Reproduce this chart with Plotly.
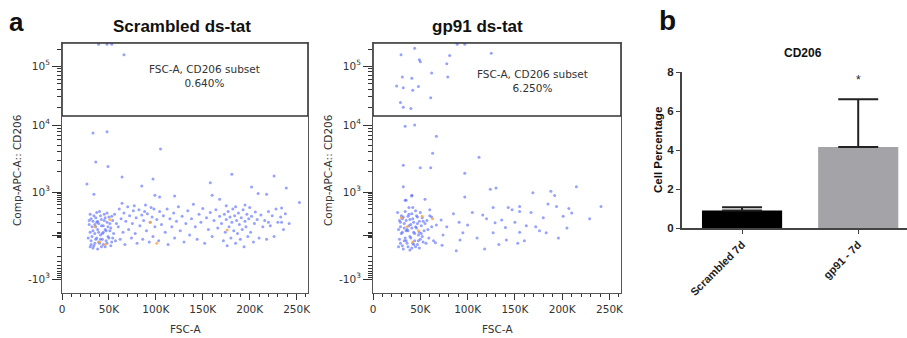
import numpy as np
import plotly.graph_objects as go

# ---------------- data ----------------
# Scrambled ds-tat : FSC-A (thousands) and Comp-APC-A :: CD206 values
scr_fsc = [30,31,32,33,34,35,36,37,38,39,40,41,42,43,44,45,46,47,48,49,50,52,53,54,55,
           29,30,31,32,33,34,35,36,37,38,39,40,41,42,43,44,45,46,47,48,49,50,51,52,53,
           28,29,30,31,33,35,36,37,38,39,41,42,44,46,48,51,54,56,57,58,
           60,61,62,63,65,66,67,68,70,71,72,74,75,76,78,79,80,82,83,85,86,87,89,90,91,93,94,96,97,98,99,64,77,88,95,
           101,103,104,106,108,110,112,113,115,117,119,120,122,124,126,128,130,132,134,136,138,140,142,144,146,148,150,152,154,156,158,160,162,164,166,168,
           170,172,173,174,175,176,177,178,179,180,181,182,183,184,185,186,187,188,189,190,191,192,193,194,195,196,197,198,199,200,201,202,204,205,206,208,210,212,214,175,185,195,
           216,218,220,222,224,226,228,230,233,236,238,242,
           26.6,34,64,85,97,99,104,120,158,160,168,181,202,209,218,226,239,253,234,234,220,
           39,48,53,66,33,48,105,36,49]
scr_cd206 = [20,-40,60,110,-80,10,150,-20,40,90,-60,0,130,-30,70,200,-90,30,100,-10,160,50,-50,120,10,
             80,-90,140,-10,30,180,-60,60,100,-110,20,250,-30,70,10,-70,120,40,-40,220,60,-20,90,-80,170,
             -20,120,200,-70,-100,80,-30,230,110,-50,180,-90,20,150,-60,30,-20,200,-40,90,
             60,300,-30,140,20,220,-70,110,350,40,180,-20,90,260,10,150,-60,280,70,190,-30,120,400,30,210,-50,100,160,-10,300,60,450,380,250,330,
             130,-40,250,80,180,20,300,-70,140,60,220,-20,110,350,30,170,-50,90,260,0,140,420,60,-30,200,100,310,-60,150,40,230,-10,120,280,50,170,
             90,-40,200,20,130,-80,250,60,160,-20,100,300,30,180,-60,120,10,220,80,-30,150,40,280,-90,110,60,200,-10,140,330,20,170,-50,90,240,130,-20,190,60,380,350,400,
             120,-30,250,70,180,-10,300,100,160,40,210,90,
             1320,850,1670,1230,1560,800,700,750,1380,800,600,1850,1190,900,850,1730,1150,480,320,100,100,
             250000,250000,250000,160000,7600,7900,4400,2800,2400]
scr_or_fsc = [35,40,46,51,94,101,176]
scr_or_cd206 = [60,-50,-70,130,100,-60,35]

# gp91 ds-tat
gp_fsc = [27,28,29,30,31,32,33,34,35,36,37,38,39,40,41,42,43,44,45,46,47,48,49,50,51,52,53,54,55,
          28,29,30,31,32,33,34,35,36,37,38,39,40,41,42,43,44,45,46,47,48,49,50,52,53,
          27,29,31,33,35,37,39,41,43,45,47,49,51,56,57,58,59,60,62,64,
          29.6,44,49,50,89,97,81,78,125,62,79,31,41,25,32,42,48,61,29,32,40,
          34,44,67,63,112,32,50,61,97,32,97,124,130,169,188,192,215,185,194,207,210,201,241,229,
          41,55,35,155,167,176,183,153,143,147,127,116,118,88,136,140,141,155,155,162,127,129,
          105,100,95,85,91,92,78,72,74,67,66,62,73,41,34,38,42,60,26,
          110,120,133,150,172,180,196,160,205]
gp_cd206 = [40,-30,100,10,-80,160,50,-20,120,-60,30,200,-10,80,-100,140,20,-40,60,180,-70,0,110,-30,70,150,-50,30,90,
            120,-60,180,20,-110,90,250,-40,40,-90,70,130,-20,210,-60,100,10,-90,50,160,-40,20,230,-10,110,
            -90,60,140,-40,30,170,-120,50,-70,260,90,-100,10,-60,120,40,-20,180,60,-40,
            160000,210000,130000,120000,250000,250000,155000,110000,170000,76000,65000,65000,62000,46000,43000,39000,45000,29000,24000,20000,19000,
            9600,10000,6800,3800,3300,2500,2300,2300,1900,1200,700,1100,1150,950,1030,780,1200,430,360,310,220,170,360,140,
            800,600,560,360,230,30,15,-60,330,280,330,190,-110,-130,125,55,-35,250,20,70,15,95,
            230,75,15,210,100,-35,60,125,0,75,-55,160,-75,760,560,330,330,280,230,
            -20,140,-70,100,60,150,-20,-40,50]
gp_or_fsc = [30,36,42,48,52,63]
gp_or_cd206 = [150,60,-50,30,170,140]

gate_pct = ["0.640%", "6.250%"]
panel_titles = ["Scrambled ds-tat", "gp91 ds-tat"]

bar_cats = ["Scrambled 7d", "gp91 - 7d"]
bar_means = [0.9, 4.15]
bar_sd = [0.17, 2.45]

# ---------------- biexponential-like display scale ----------------
SCALE_V = np.array([-1000, 0, 1000, 1e4, 1e5, 262144])
SCALE_D = np.array([21, 65, 108, 175, 234, 257])
def biex(v):
    v = np.asarray(v, float)
    return np.interp(np.arcsinh(v / 100), np.arcsinh(SCALE_V / 100), SCALE_D)

major_v = [-1000, 0, 1000, 1e4, 1e5]
major_t = ["-10<sup>3</sup>", "", "10<sup>3</sup>", "10<sup>4</sup>", "10<sup>5</sup>"]
minor_v = ([m * 10 ** k for k in (2, 3, 4) for m in range(2, 10)] + [2e5, 100, -100, 10, -10, 20, -20]
           + [-m * 100 for m in range(2, 10)])

LUC = "DejaVu Sans"
ARI = "Liberation Sans"
GRAY = "#333333"

fig = go.Figure()
blue = "rgba(80,100,255,0.6)"
orange = "rgba(255,165,60,0.8)"

for i, (fx, fy, ox, oy) in enumerate([(scr_fsc, scr_cd206, scr_or_fsc, scr_or_cd206),
                                       (gp_fsc, gp_cd206, gp_or_fsc, gp_or_cd206)]):
    ax = "" if i == 0 else "2"
    fig.add_trace(go.Scatter(x=np.array(fx) * 1000, y=biex(fy), mode="markers",
                             marker=dict(size=3, color=blue), xaxis="x" + ax, yaxis="y" + ax,
                             showlegend=False, hoverinfo="skip"))
    fig.add_trace(go.Scatter(x=np.array(ox) * 1000, y=biex(oy), mode="markers",
                             marker=dict(size=3, color=orange), xaxis="x" + ax, yaxis="y" + ax,
                             showlegend=False, hoverinfo="skip"))

fig.add_trace(go.Bar(x=bar_cats, y=bar_means, width=0.69,
                     marker=dict(color=["#000000", "#a3a3a8"], line=dict(width=0)),
                     error_y=dict(type="data", symmetric=False, array=bar_sd, arrayminus=[0, 0],
                                  color="#222222", thickness=2, width=20),
                     xaxis="x3", yaxis="y3", showlegend=False))

H = 338.0
W = 907.0
ydom = [1 - 293 / H, 1 - 43 / H]
xaxis_common = dict(range=[0, 262144], tickmode="array",
                    tickvals=[0, 50000, 100000, 150000, 200000, 250000],
                    ticktext=["0", "50K", "100K", "150K", "200K", "250K"],
                    ticks="outside", ticklen=6, tickwidth=1, tickcolor=GRAY,
                    minor=dict(dtick=10000, tick0=0, ticks="outside", ticklen=3, tickcolor=GRAY),
                    showline=True, linecolor="#555555", linewidth=1, mirror=True,
                    showgrid=False, zeroline=False, automargin=False,
                    tickfont=dict(family=LUC, size=10.5, color=GRAY))
yaxis_common = dict(range=[7, 257], tickmode="array", tickvals=biex(major_v), ticktext=major_t,
                    ticks="outside", ticklen=9, tickwidth=1, tickcolor=GRAY,
                    minor=dict(tickmode="array", tickvals=biex(minor_v), ticks="outside",
                               ticklen=4, tickcolor=GRAY),
                    showline=True, linecolor="#555555", linewidth=1, mirror=True,
                    showgrid=False, zeroline=False, automargin=False,
                    tickfont=dict(family=LUC, size=10.5, color=GRAY))

fig.update_layout(
    width=907, height=338, margin=dict(l=0, r=0, t=0, b=0, pad=0),
    paper_bgcolor="white", plot_bgcolor="white",
    xaxis=dict(domain=[62 / W, 308 / W], anchor="y", **xaxis_common),
    yaxis=dict(domain=ydom, anchor="x", **yaxis_common),
    xaxis2=dict(domain=[373 / W, 621 / W], anchor="y2", **xaxis_common),
    yaxis2=dict(domain=ydom, anchor="x2", **yaxis_common),
    xaxis3=dict(domain=[682 / W, 1.0], anchor="y3", range=[-0.517, 1.42],
                tickangle=-45, ticks="outside", ticklen=4, tickcolor="#444444",
                showline=True, linecolor="#444444", linewidth=2, showgrid=False, automargin=False,
                tickfont=dict(family=ARI, size=11, color="#222222", weight="bold")),
    yaxis3=dict(domain=[1 - 228 / H, 1 - 72 / H], anchor="x3", range=[0, 8],
                tickvals=[0, 2, 4, 6, 8], ticks="outside", ticklen=4, tickcolor="#444444",
                showline=True, linecolor="#444444", linewidth=2, showgrid=False, zeroline=False,
                automargin=False,
                tickfont=dict(family=ARI, size=11.5, color="#222222", weight="bold")),
    bargap=0.3,
)

# gates
for i, ax in enumerate(["", "2"]):
    fig.add_shape(type="rect", xref="x" + ax, yref="y" + ax, x0=0, x1=262144,
                  y0=float(biex(14200)), y1=257, line=dict(color="#333333", width=1.6))

ann = []
gate_lbl_pos = [(152000, 68000), (169000, 56000)]
for i, ax in enumerate(["", "2"]):
    gx, gy = gate_lbl_pos[i]
    ann.append(dict(x=gx, y=float(biex(gy)), xref="x" + ax, yref="y" + ax,
                    text="FSC-A, CD206 subset<br>" + gate_pct[i], showarrow=False,
                    font=dict(family=LUC, size=10.5, color=GRAY), align="center"))

def pann(x, y, text, size, family=ARI, bold=True, angle=0, color="#111111"):
    t = "<b>%s</b>" % text if bold else text
    return dict(x=x / W, y=1 - y / H, xref="paper", yref="paper", text=t, showarrow=False,
                textangle=angle, font=dict(family=family, size=size, color=color),
                xanchor="center", yanchor="middle")

ann += [
    pann(16, 22, "a", 26),
    pann(667, 21, "b", 28),
    pann(182, 27, panel_titles[0], 17),
    pann(478, 27, panel_titles[1], 17),
    pann(17, 170, "Comp-APC-A:: CD206", 10.5, family=LUC, bold=False, angle=-90, color=GRAY),
    pann(328, 170, "Comp-APC-A:: CD206", 10.5, family=LUC, bold=False, angle=-90, color=GRAY),
    pann(185, 329, "FSC-A", 10.5, family=LUC, bold=False, color=GRAY),
    pann(497, 329, "FSC-A", 10.5, family=LUC, bold=False, color=GRAY),
    pann(803, 53, "CD206", 12),
    pann(658, 150, "Cell Percentage", 11.5, angle=-90),
]
ann.append(dict(x=bar_cats[1], y=7.6, xref="x3", yref="y3", text="*", showarrow=False,
                font=dict(family=ARI, size=12, color="#222222")))
fig.update_layout(annotations=ann)

fig.write_html("out.html", config={"displayModeBar": False},
               post_script="document.body.style.margin='0';document.body.style.padding='0';")
